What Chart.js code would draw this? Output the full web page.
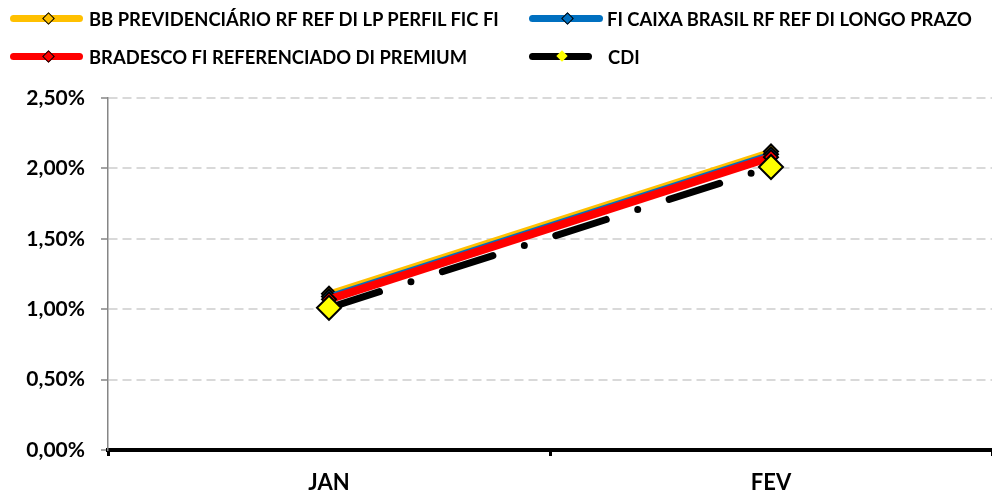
<!DOCTYPE html>
<html>
<head>
<meta charset="utf-8">
<script src="https://cdn.jsdelivr.net/npm/chart.js@4/dist/chart.umd.min.js"></script>
<style>
    html, body { margin: 0; padding: 0; background: #fff; }
    #wrap { position: relative; width: 992px; height: 494px; overflow: hidden; }
    #grafico { position: absolute; left: 0; top: 0; }
    .leg { position: absolute; height: 20px; font: bold 18.4px Lato, sans-serif; color: #000; white-space: nowrap; }
    .leg .amostra { position: absolute; top: 6px; height: 7px; border-radius: 4px; }
    .leg .losango { position: absolute; top: 5px; width: 7px; height: 7px; border: 1.5px solid #000; transform: rotate(45deg); }
    .leg .texto { position: absolute; top: 0; line-height: 20px; }
</style>
</head>
<body>
<div id="wrap">
    <!-- canvas um pouco mais largo: o Chart.js deixa ~14px sobrando a direita, o wrap corta -->
    <canvas id="grafico" width="1006" height="494"></canvas>
    <div id="legenda"></div>
</div>
<script>
(function() {
    'use strict';

    const meses = ['JAN', 'FEV'];

    const nomes = [
        'BB PREVIDENCIÁRIO RF REF DI LP PERFIL FIC FI',
        'FI CAIXA BRASIL RF REF DI LONGO PRAZO',
        'BRADESCO FI REFERENCIADO DI PREMIUM',
        'CDI'
    ];

    const bbPrev = [1.11, 2.12];
    const caixa = [1.09, 2.10];
    const bradesco = [1.07, 2.08];
    const cdi = [1.01, 2.01];

    const ticksY = [0, 0.5, 1.0, 1.5, 2.0, 2.5];

    const cores = ['#FFC000', '#0070C0', '#FF0000', '#000000'];

    function formatarPct(v) {
        return v.toFixed(2).replace('.', ',') + '%';
    }

    function montarLegenda() {
        const itens = [
            { i: 0, x: 10, y: 9, w: 73, tx: 89, marca: '#FFC000' },
            { i: 1, x: 529, y: 9, w: 74, tx: 607, marca: '#0070C0' },
            { i: 2, x: 10, y: 47, w: 73, tx: 89, marca: '#FF0000' },
            { i: 3, x: 529, y: 47, w: 63, tx: 608, marca: '#FFFF00' }
        ];
        const box = document.getElementById('legenda');
        itens.forEach(function(it) {
            const d = document.createElement('div');
            d.className = 'leg';
            d.style.left = it.x + 'px';
            d.style.top = it.y + 'px';
            const a = document.createElement('div');
            a.className = 'amostra';
            a.style.left = '0px';
            a.style.width = it.w + 'px';
            a.style.background = cores[it.i];
            const l = document.createElement('div');
            l.className = 'losango';
            l.style.left = (it.i === 3 ? 29 : 34) + 'px';
            l.style.background = it.marca;
            if (it.i === 3) { l.style.borderWidth = '0px'; l.style.width = '8px'; l.style.height = '8px'; }
            const t = document.createElement('div');
            t.className = 'texto';
            t.style.left = (it.tx - it.x) + 'px';
            t.textContent = nomes[it.i];
            d.appendChild(a);
            d.appendChild(l);
            d.appendChild(t);
            box.appendChild(d);
        });
    }

    function serieFundo(nome, dados, cor, larg, ordem) {
        return {
            label: nome,
            data: dados,
            borderColor: cor,
            backgroundColor: cor,
            borderWidth: larg,
            pointStyle: 'rectRot',
            pointRadius: 7,
            pointBackgroundColor: cor,
            pointBorderColor: '#000',
            pointBorderWidth: 2,
            tension: 0,
            order: ordem
        };
    }

    montarLegenda();

    new Chart(document.getElementById('grafico').getContext('2d'), {
        type: 'line',
        data: {
            labels: meses,
            datasets: [
                serieFundo(nomes[0], bbPrev, cores[0], 6, 3),
                serieFundo(nomes[1], caixa, cores[1], 6, 2),
                serieFundo(nomes[2], bradesco, cores[2], 8, 1),
                {
                    label: nomes[3],
                    data: cdi,
                    borderColor: '#000',
                    borderWidth: 7,
                    borderDash: [53, 33, 0, 33],
                    borderCapStyle: 'round',
                    pointStyle: 'rectRot',
                    pointRadius: 12,
                    pointBackgroundColor: '#FFFF00',
                    pointBorderColor: '#000',
                    pointBorderWidth: 2,
                    tension: 0,
                    order: 0
                }
            ]
        },
        options: {
            responsive: false,
            animation: false,
            layout: { padding: { top: 98, right: 0, bottom: 0, left: 0 } },
            plugins: {
                legend: { display: false },
                tooltip: { enabled: false }
            },
            scales: {
                x: {
                    offset: true,
                    grid: {
                        offset: true,
                        drawOnChartArea: false,
                        tickLength: 6,
                        tickWidth: 3,
                        tickColor: '#000'
                    },
                    border: { color: '#000', width: 4 },
                    ticks: {
                        color: '#000',
                        padding: 14,
                        font: { family: 'Lato', weight: 'bold', size: 22 }
                    },
                    afterFit: function(s) {
                        s.height = 44;
                        s.paddingLeft = 0;
                        s.paddingRight = 0;
                    }
                },
                y: {
                    min: 0,
                    max: 2.5,
                    afterBuildTicks: function(s) {
                        s.ticks = ticksY.map(v => ({ value: v }));
                    },
                    grid: {
                        color: '#D9D9D9',
                        lineWidth: 2,
                        tickLength: 7,
                        tickColor: '#868686',
                        tickWidth: 1.5
                    },
                    border: { color: '#868686', width: 1.5, dash: [9, 5] },
                    ticks: {
                        color: '#000',
                        padding: 16,
                        font: { family: 'Lato', weight: 'bold', size: 21 },
                        callback: function(v) { return formatarPct(v); }
                    },
                    afterFit: function(s) { s.width = 108; }
                }
            }
        }
    });
})();
</script>
</body>
</html>
